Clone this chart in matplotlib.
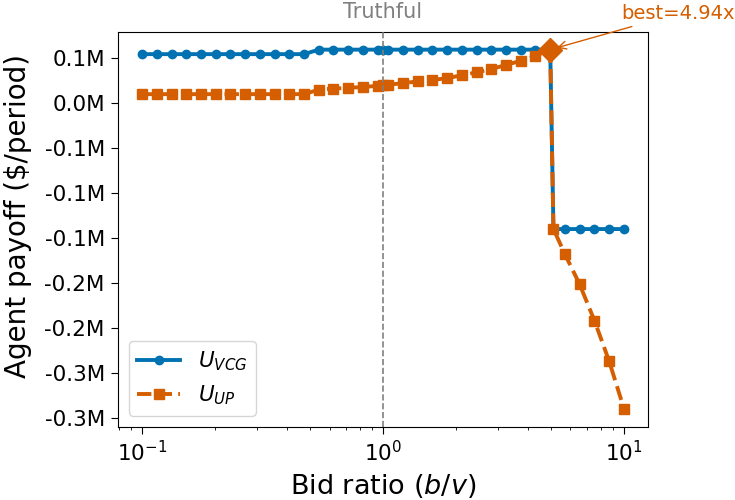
import numpy as np
import matplotlib
matplotlib.use("Agg")
import matplotlib.pyplot as plt
from matplotlib.ticker import FuncFormatter, MultipleLocator
from matplotlib.transforms import blended_transform_factory

# Bid ratios (b/v)
bid_ratio = [0.1, 0.1151, 0.1325, 0.1525, 0.1756, 0.2021, 0.2326, 0.2678, 0.3082,
             0.3548, 0.4084, 0.4701, 0.5411, 0.6229, 0.7170, 0.8253, 0.95,
             1.0,
             1.05, 1.2088, 1.3917, 1.6022, 1.8446, 2.1236, 2.4448, 2.8147, 3.2404,
             3.7306, 4.2948, 4.9445, 5.1, 5.6923, 6.5533, 7.5446, 8.6858, 10.0]

# Agent payoff ($/period)
u_vcg = [54500] * 12 + [59500] * 5 + [59500] + [59500] * 12 + [-140000] * 6

u_up = [10000, 10000, 10000, 10000, 10000, 10000, 10000, 10000, 10000, 10000, 10000, 10000,
        15000, 16200, 17000, 18000, 19200,
        20000,
        20400, 22300, 24100, 25800, 27800, 31000, 34200, 37800, 42500, 47100, 52700, 59500,
        -140000, -168000, -201600, -241700, -287000, -339600]

blue = "#0072B2"
orange = "#D55E00"

fig = plt.figure(figsize=(7.35, 5.0), dpi=100)
ax = fig.add_axes([118 / 735, 1 - 426.5 / 500, 530 / 735, (426.5 - 31.7) / 500])

ax.plot(bid_ratio, u_vcg, color=blue, lw=2.8, marker="o", ms=6, label=r"$U_{VCG}$")
ax.plot(bid_ratio, u_up, color=orange, lw=2.8, ls="--", marker="s", ms=6.5, label=r"$U_{UP}$")

ax.set_xscale("log")

i_best = int(np.argmax(u_up))
bx, by = bid_ratio[i_best], u_up[i_best]
ax.plot([bx], [by], marker="D", ms=12, color=orange, zorder=5)

ax.axvline(1.0, color="gray", ls="--", lw=1.2, zorder=4)

ax.yaxis.set_major_locator(MultipleLocator(50000))


def fmt(v, _):
    v = v / 1e6
    if abs(v) < 1e-9:
        v = 0.0
    return f"{v:.1f}M"


ax.yaxis.set_major_formatter(FuncFormatter(fmt))

ax.tick_params(axis="both", which="major", labelsize=15.5, length=5, pad=4.5)
ax.set_xlabel(r"Bid ratio ($b/v$)", fontsize=19.5, labelpad=5)
ax.set_ylabel("Agent payoff ($/period)", fontsize=20)
ax.yaxis.set_label_coords(-0.162, 0.534)

trans = blended_transform_factory(ax.transData, ax.transAxes)
ax.text(1.0, 1.025, "Truthful", ha="center", va="bottom", color="gray", fontsize=15,
        transform=trans)

ax.annotate(f"best={bx:.2f}x", xy=(bx, by), xytext=(92, 26), textcoords="offset points",
            ha="center", va="center", color=orange, fontsize=14, annotation_clip=False,
            arrowprops=dict(arrowstyle="->", color=orange, lw=1.0, shrinkB=5))

ax.legend(loc="lower left", fontsize=15.5)

fig.savefig("out.png", dpi=100)
